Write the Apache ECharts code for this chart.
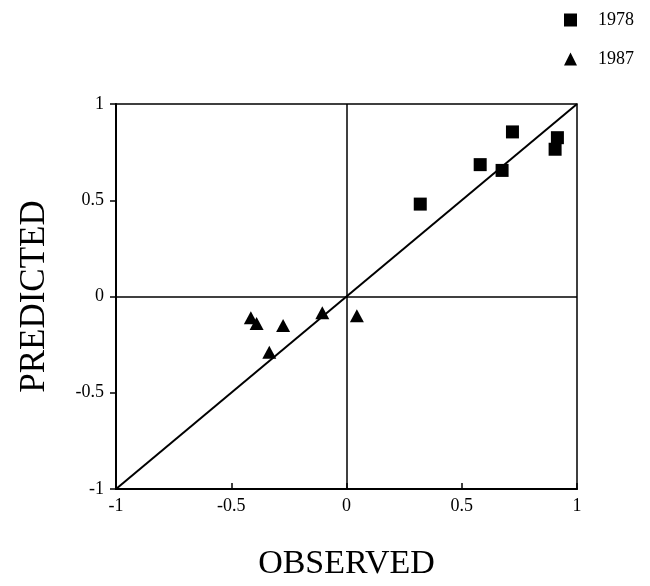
<!DOCTYPE html>
<html>
<head>
<meta charset="utf-8">
<script src="https://cdn.jsdelivr.net/npm/echarts@6/dist/echarts.min.js"></script>
<style>html,body{margin:0;padding:0;background:#fff}#c{width:650px;height:586px}</style>
</head>
<body>
<div id="c"></div>
<script>
var seriesNames = ['1978', '1987'];
var data1978 = [[0.72, 0.855], [0.915, 0.825], [0.905, 0.765], [0.58, 0.685], [0.675, 0.655], [0.32, 0.48]];
var data1987 = [[-0.415, -0.11], [-0.39, -0.14], [-0.275, -0.15], [-0.335, -0.29], [-0.105, -0.085], [0.045, -0.1]];
var diagonal = [[-1, -1], [1, 1]];
var axisTicks = [-1, -0.5, 0, 0.5, 1];
var xName = 'OBSERVED';
var yName = 'PREDICTED';

var font = 'Liberation Serif';
var chart = echarts.init(document.getElementById('c'), null, {renderer: 'canvas'});
chart.setOption({
  animation: false,
  backgroundColor: '#fff',
  textStyle: {fontFamily: font, color: '#000'},
  legend: {
    orient: 'vertical', left: 559, top: 6,
    itemWidth: 13, itemHeight: 13, itemGap: 21,
    data: [{name: seriesNames[0], icon: 'rect'}, {name: seriesNames[1], icon: 'triangle'}],
    textStyle: {fontFamily: font, fontSize: 18, color: '#000', padding: [0, 0, 0, 16]}
  },
  grid: {left: 116, right: 73, top: 104, bottom: 96, show: true, borderColor: '#000', borderWidth: 1.5, backgroundColor: 'transparent'},
  xAxis: {
    type: 'value', min: axisTicks[0], max: axisTicks[axisTicks.length - 1], interval: 0.5,
    name: xName, nameLocation: 'middle', nameGap: 58,
    nameTextStyle: {fontFamily: font, fontSize: 34, color: '#000'},
    axisLine: {onZero: false, lineStyle: {color: '#000', width: 2}},
    axisTick: {inside: true, length: 6, lineStyle: {color: '#000', width: 1.5}},
    axisLabel: {fontFamily: font, fontSize: 18, color: '#000', margin: 8},
    splitLine: {show: false}
  },
  yAxis: {
    type: 'value', min: axisTicks[0], max: axisTicks[axisTicks.length - 1], interval: 0.5,
    name: yName, nameLocation: 'middle', nameGap: 64,
    nameTextStyle: {fontFamily: font, fontSize: 35, color: '#000'},
    axisLine: {onZero: false, lineStyle: {color: '#000', width: 2}},
    axisTick: {inside: false, length: 6, lineStyle: {color: '#000', width: 1.5}},
    axisLabel: {fontFamily: font, fontSize: 18, color: '#000', margin: 12},
    splitLine: {show: false}
  },
  series: [
    {
      name: 'diag', type: 'line', data: diagonal, symbol: 'none', silent: true,
      lineStyle: {color: '#000', width: 2}, z: 1,
      markLine: {
        silent: true, symbol: 'none', label: {show: false},
        lineStyle: {color: '#000', width: 1.5, type: 'solid'},
        data: [{xAxis: 0}, {yAxis: 0}]
      }
    },
    {name: seriesNames[0], type: 'scatter', symbol: 'rect', symbolSize: 13, data: data1978, itemStyle: {color: '#000', opacity: 1}, z: 3},
    {name: seriesNames[1], type: 'scatter', symbol: 'triangle', symbolSize: [14, 13], data: data1987, itemStyle: {color: '#000', opacity: 1}, z: 3}
  ]
});
</script>
</body>
</html>
